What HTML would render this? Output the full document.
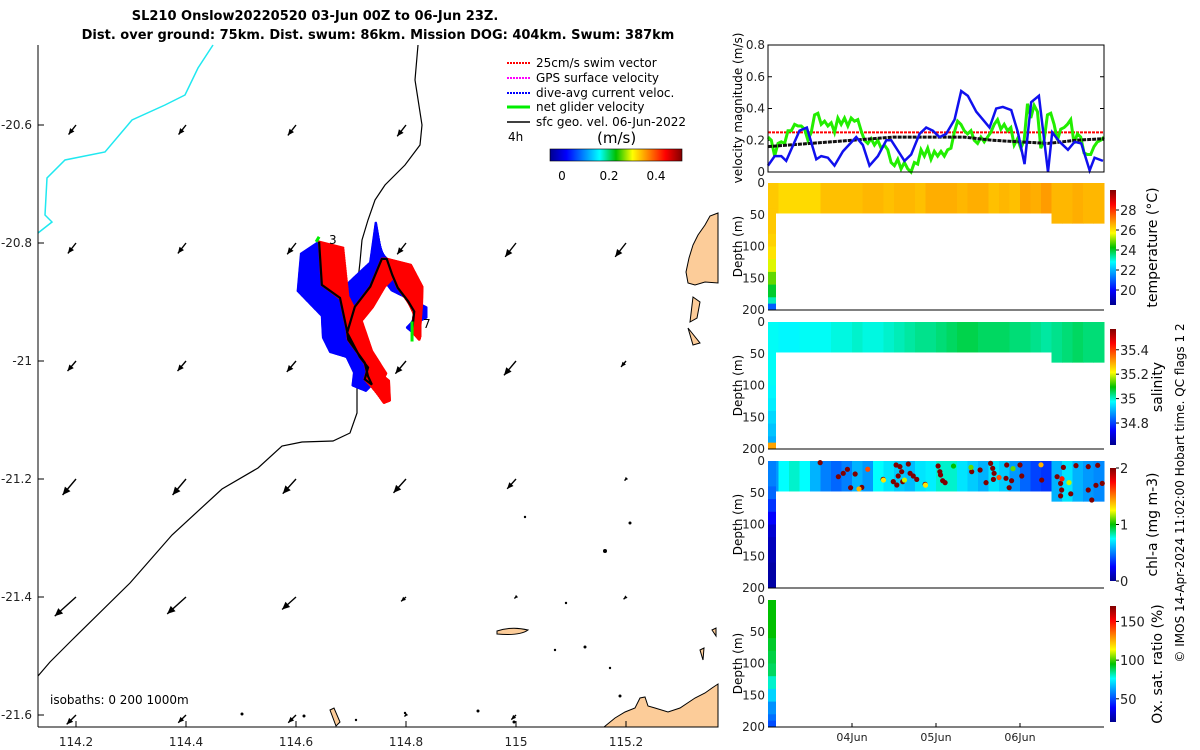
<!DOCTYPE html>
<html><head><meta charset="utf-8"><style>
html,body{margin:0;padding:0;background:#fff;}
svg{display:block;font-family:"DejaVu Sans","Liberation Sans",sans-serif;}
</style></head><body>
<svg id="root" width="1200" height="750" viewBox="0 0 1200 750" xmlns="http://www.w3.org/2000/svg">
<defs>
<linearGradient id="jetH" x1="0" x2="1" y1="0" y2="0">
<stop offset="0" stop-color="#00008f"/><stop offset="0.125" stop-color="#0000ff"/><stop offset="0.375" stop-color="#00ffff"/><stop offset="0.5" stop-color="#00c000"/><stop offset="0.625" stop-color="#ffff00"/><stop offset="0.875" stop-color="#ff0000"/><stop offset="1" stop-color="#800000"/></linearGradient>
<linearGradient id="jetV" x1="0" x2="0" y1="1" y2="0">
<stop offset="0" stop-color="#00008f"/><stop offset="0.125" stop-color="#0000ff"/><stop offset="0.375" stop-color="#00ffff"/><stop offset="0.5" stop-color="#00c000"/><stop offset="0.625" stop-color="#ffff00"/><stop offset="0.875" stop-color="#ff0000"/><stop offset="1" stop-color="#800000"/></linearGradient>
</defs>
<g id="map">
<text x="315" y="20" text-anchor="middle" font-weight="bold" font-size="13">SL210 Onslow20220520 03-Jun 00Z to 06-Jun 23Z.</text>
<text x="378" y="39" text-anchor="middle" font-weight="bold" font-size="13">Dist. over ground: 75km. Dist. swum: 86km. Mission DOG: 404km. Swum: 387km</text>
<polyline fill="none" stroke="#20e8f0" stroke-width="1.5" points="213,45 198,68 185,95 165,105 132,120 105,152 65,160 47,178 45,215 52,222 38,233"/>
<polyline fill="none" stroke="#000" stroke-width="1.2" points="418,45 415,80 422,125 420,145 405,165 385,185 375,200 368,220 362,240 360,262 358,280 362,300 358,320 357,360 357,413 350,433 333,441 302,442 282,446 258,468 222,489 172,535 130,583 72,640 50,662 38,676"/>
<path fill="#fccc99" stroke="#000" stroke-width="1" d="M718,213 L710,216 705,225 698,235 693,245 689,258 686,272 688,283 695,285 705,282 718,283 Z M693,297 L700,302 697,318 690,322 Z M688,328 L700,343 693,345 Z"/>
<path fill="#fccc99" stroke="#000" stroke-width="1" d="M604,727 L615,718 625,712 635,708 640,698 645,697 648,706 655,708 668,712 680,708 695,698 705,693 712,688 718,684 718,727 Z M497,631 Q512,626 528,630 Q520,636 497,634 Z M712,630 L716,628 716,636 Z M700,650 L704,648 703,660 Z M330,710 L334,708 340,722 336,726 Z"/>
<g fill="#000">
<circle cx="525" cy="517" r="1.2"/><circle cx="566" cy="603" r="1.2"/><circle cx="605" cy="551" r="2"/><circle cx="630" cy="523" r="1.5"/><circle cx="555" cy="650" r="1.2"/><circle cx="585" cy="647" r="1.5"/><circle cx="610" cy="668" r="1.2"/><circle cx="620" cy="696" r="1.5"/><circle cx="242" cy="714" r="1.5"/><circle cx="304" cy="716" r="1.5"/><circle cx="356" cy="720" r="1.2"/><circle cx="405" cy="713" r="1.2"/><circle cx="478" cy="711" r="1.5"/><circle cx="514" cy="722" r="1.5"/>
</g>
<g id="arrows"></g>
<g id="track"></g>
<text x="329" y="244" font-size="12">3</text>
<text x="423" y="328" font-size="12">7</text>
<line x1="38" y1="45" x2="38" y2="727" stroke="#000"/>
<line x1="38" y1="727" x2="718" y2="727" stroke="#000"/>
<g id="mapticks" font-size="12" fill="#222"></g>
<text x="50" y="704" font-size="12">isobaths: 0   200  1000m</text>
<g font-size="12">
<line x1="507" y1="63" x2="530" y2="63" stroke="#f00" stroke-width="2" stroke-dasharray="2,1"/>
<text x="536" y="67">25cm/s swim vector</text>
<line x1="507" y1="78" x2="530" y2="78" stroke="#f0f" stroke-width="2" stroke-dasharray="2,1"/>
<text x="536" y="82">GPS surface velocity</text>
<line x1="507" y1="93" x2="530" y2="93" stroke="#00f" stroke-width="2" stroke-dasharray="2,1"/>
<text x="536" y="97">dive-avg current veloc.</text>
<line x1="507" y1="107" x2="530" y2="107" stroke="#0e0" stroke-width="3"/>
<text x="536" y="111">net glider velocity</text>
<line x1="507" y1="122" x2="530" y2="122" stroke="#000" stroke-width="1.5"/>
<text x="536" y="126">sfc geo. vel. 06-Jun-2022</text>
<text x="508" y="141">4h</text>
<text x="597" y="143" font-size="15">(m/s)</text>
<rect x="550" y="149" width="132" height="12" fill="url(#jetH)" stroke="#000" stroke-width="0.6"/>
<text x="562" y="180" text-anchor="middle">0</text>
<text x="609" y="180" text-anchor="middle">0.2</text>
<text x="656" y="180" text-anchor="middle">0.4</text>
</g>
</g>
<g id="vel"></g>
<g id="prof"></g>
<text transform="translate(1184,493) rotate(-90)" text-anchor="middle" font-size="12">© IMOS 14-Apr-2024 11:02:00 Hobart time. QC flags 1  2</text>
</svg>
<script>
// ===== data =====
const gridLons = [114.2, 114.4, 114.6, 114.8, 115.0, 115.2];
const gridLats = [-20.6, -20.8, -21.0, -21.2, -21.4, -21.6];
const geoSpeed = [
 [0.11,0.11,0.12,0.13,0,0],
 [0.12,0.12,0.13,0.13,0.16,0.16],
 [0.12,0.12,0.13,0.15,0.17,0.07],
 [0.19,0.19,0.18,0.17,0.12,0.02],
 [0.26,0.23,0.17,0.06,0.02,0.03],
 [0.12,0.1,0.1,0.02,0.06,0.0]];
const geoDir = [
 [218,218,218,218,218,218],
 [218,218,218,218,218,218],
 [220,220,220,220,220,220],
 [220,220,222,222,222,222],
 [228,228,228,228,228,228],
 [225,225,225,225,225,225]];
const trackLon = [114.642,114.647,114.680,114.693,114.695,114.725,114.731,114.738,114.725,114.731,114.716,114.693,114.707,114.735,114.756,114.765,114.775,114.785,114.804,114.815,114.813,114.811];
const trackLat = [-20.798,-20.871,-20.893,-20.950,-20.964,-21.003,-21.026,-21.040,-21.031,-21.011,-20.993,-20.952,-20.908,-20.874,-20.827,-20.827,-20.854,-20.876,-20.899,-20.916,-20.933,-20.950];
const swimU = [0.2,0.22,0.15,0.1,0.15,0.2,0.18,0.1,0.1,0.15,0.1,0.12,0.15,0.12,0.15,0.2,0.25,0.2,0.1,0.05,0.05,0];
const swimV = [-0.05,-0.1,-0.15,-0.2,-0.2,-0.15,-0.2,-0.15,-0.1,-0.05,0.05,0.1,0,0,-0.1,-0.05,-0.1,-0.15,-0.2,-0.2,-0.15,0];
const curU = [-0.15,-0.2,-0.15,-0.2,-0.15,-0.15,-0.1,-0.05,-0.1,-0.1,-0.1,-0.05,-0.05,0,-0.05,-0.1,-0.1,-0.05,0.15,0.1,-0.05,0];
const curV = [-0.1,-0.05,-0.15,-0.05,-0.1,0.05,0,-0.05,-0.05,0.1,0.1,0.15,0.2,0.2,0.3,0.1,0,-0.02,-0.05,-0.05,-0.05,0];

const blueHours = [0,1.9,3.8,5.2,9,11.1,13.8,15.2,17.1,19,21.4,25.2,27.1,29,31.4,33.8,35.2,39,40.9,43.3,45.2,47.1,49,50.9,53.3,55.2,57.1,59.5,61.4,63.3,65.2,67.1,69.5,71.4,73.3,75.2,77.4,80,81.2,83.3,85.7,87.6,89.5,91.9,93.3,95.7];
const blueVals = [0.04,0.1,0.1,0.07,0.26,0.28,0.08,0.1,0.09,0.04,0.13,0.22,0.17,0.04,0.1,0.2,0.2,0.07,0.11,0.24,0.28,0.26,0.22,0.24,0.33,0.51,0.48,0.38,0.33,0.28,0.4,0.41,0.39,0.25,0.05,0.44,0.48,0.0,0.25,0.19,0.14,0.19,0.18,0.01,0.09,0.07];
const greenVals = [0.22,0.2,0.1,0.18,0.19,0.18,0.26,0.26,0.3,0.29,0.29,0.27,0.2,0.25,0.36,0.37,0.3,0.32,0.29,0.31,0.25,0.34,0.3,0.34,0.29,0.34,0.32,0.33,0.26,0.2,0.18,0.21,0.17,0.2,0.15,0.17,0.14,0.06,0.04,0.08,0.02,0.06,0.02,0.0,0.06,0.05,0.14,0.1,0.15,0.08,0.13,0.1,0.13,0.1,0.14,0.15,0.25,0.32,0.3,0.26,0.24,0.26,0.2,0.18,0.22,0.19,0.22,0.25,0.3,0.33,0.27,0.3,0.26,0.28,0.17,0.21,0.15,0.2,0.43,0.34,0.42,0.38,0.15,0.2,0.36,0.37,0.3,0.2,0.27,0.28,0.3,0.33,0.18,0.24,0.22,0.12,0.11,0.11,0.16,0.19,0.2,0.22];
const blackHours = [0,12,24,36,48,56,64,72,80,88,96];
const blackVals = [0.16,0.18,0.2,0.22,0.22,0.22,0.2,0.19,0.18,0.2,0.21];
const swimRef = 0.25;
const velTicks = [0,0.2,0.4,0.6,0.8];

const colHours = [0,3,6,9,12,15,18,21,24,27,30,33,36,39,42,45,48,51,54,57,60,63,66,69,72,75,78,81,84,87,90,93];
const colDepth = [48,48,48,48,48,48,48,48,48,48,48,48,48,48,48,48,48,48,48,48,48,48,48,48,48,48,48,64,64,64,64,64];
const tempCols = [26.3,26.1,26.1,26.1,26.1,26.4,26.4,26.4,26.4,26.5,26.5,26.4,26.5,26.5,26.4,26.6,26.6,26.6,26.5,26.6,26.6,26.4,26.5,26.4,26.7,26.6,26.8,26.5,26.5,26.6,26.5,26.5];
const salCols = [34.98,34.97,34.97,34.98,34.98,34.98,34.99,34.99,35.0,34.99,34.99,35.0,35.01,35.02,35.03,35.03,35.04,35.05,35.06,35.06,35.05,35.05,35.05,35.04,35.04,35.03,35.02,35.03,35.04,35.05,35.04,35.04];
const chlCols = [0.55,0.75,0.8,0.75,0.6,0.5,0.45,0.5,0.6,0.55,0.75,0.7,0.65,0.62,0.7,0.72,0.8,0.8,0.7,0.65,0.6,0.7,0.65,0.55,0.45,0.38,0.35,0.6,0.7,0.6,0.55,0.52];
const profDepths = [0,20,40,60,80,100,120,140,160,180,190];
const tempProf = [26.3,26.3,26.3,26.3,26.2,26.0,25.5,24.8,24.0,23.2,21.0];
const salProf = [34.98,34.98,34.98,34.98,34.98,34.97,34.96,34.94,34.92,34.9,35.3];
const chlProf = [0.5,0.5,0.45,0.35,0.25,0.15,0.1,0.08,0.05,0.05,0.05];
const oxProf = [95,95,95,92,90,88,80,70,60,55,50];
const chlDotHours = [14.9,20.1,21.5,22.7,24.9,23.6,26.8,32.9,36.6,37.7,38.2,37.2,35.8,36.8,38.5,40.1,40.6,41.5,42.5,44.9,48.6,49.1,49.3,49.9,50.6,58.2,60.6,62.3,63.6,64.2,64.6,64.4,68.2,68.0,68.9,69.6,72.0,72.5,78.2,84.4,82.6,83.6,83.9,83.6,86.5,88.0,91.5,91.5,92.5,94.2,93.7,95.5,28.5,26,45,53,58,33,39,70,66,84,78,86];
const chlDotDepth = [2.6,24.7,19.4,13.1,20.5,42,41.5,28.9,6.3,8.9,16.8,23.6,32.5,37.8,32.5,4.7,19.4,23.6,28.9,36.7,7.9,16.8,22,31,34.1,16.8,14.2,34.1,3.7,11.5,19.4,28.9,6.3,27.3,42,31,6.3,23.6,30,10,24.7,35.2,45.7,54.9,51.7,7.3,8.9,45.7,61.4,6.8,38.3,35.2,13,44,38,8,10,30,30,12,26,28,6,34];
const chlDotVals = [2,2,2,2,2,2,2,2,2,2,2,2,2,2,2,2,2,2,2,2,2,2,2,2,2,2,2,2,2,2,2,2,2,2,2,2,2,2,2,2,2,2,2,2,2,2,2,2,2,2,2,2,1.6,1.4,1.3,1.0,1.1,1.3,1.2,1.1,1.6,1.7,1.4,1.2];

// ===== helpers =====
const NS='http://www.w3.org/2000/svg';
function mk(tag,parent,attrs){const e=document.createElementNS(NS,tag);for(const k in attrs)e.setAttribute(k,attrs[k]);parent.appendChild(e);return e;}
function jet(t){t=Math.max(0,Math.min(1,t));
 const stops=[[0,[0,0,143]],[0.125,[0,0,255]],[0.375,[0,255,255]],[0.5,[0,192,0]],[0.625,[255,255,0]],[0.875,[255,0,0]],[1,[128,0,0]]];
 for(let i=1;i<stops.length;i++){if(t<=stops[i][0]){const a=stops[i-1],b=stops[i];const f=(t-a[0])/(b[0]-a[0]);
 const c=a[1].map((v,j)=>Math.round(v+(b[1][j]-v)*f));return `rgb(${c[0]},${c[1]},${c[2]})`;}}return 'rgb(128,0,0)';}
const lonX = lon => 76 + (lon-114.2)*550;
const latY = lat => 125 + (-20.6-lat)*590;

// ===== map ticks =====
const mt=document.getElementById('mapticks');
gridLons.forEach(l=>{const x=lonX(l);
 const t=mk('line',mt,{x1:x,y1:727,x2:x,y2:721,stroke:'#000'});
 
 const tx=mk('text',mt,{x:x,y:746,'text-anchor':'middle'});tx.textContent=(l===115?'115':l.toFixed(1));
 });
gridLats.forEach(l=>{const y=latY(l);
 const t=mk('line',mt,{x1:38,y1:y,x2:44,y2:y,stroke:'#000'});
 
 const tx=mk('text',mt,{x:32,y:y+4,'text-anchor':'end'});tx.textContent=(l===-21?'-21':l.toFixed(1));
 });

// ===== geo arrows =====
const ag=document.getElementById('arrows');
const arrowScale=110;
gridLats.forEach((lat,r)=>gridLons.forEach((lon,c)=>{
 const s=geoSpeed[r][c]; if(s<=0) return;
 const a=geoDir[r][c]*Math.PI/180; const L=s*arrowScale;
 const x0=lonX(lon), y0=latY(lat);
 const dx=Math.sin(a)*L, dy=-Math.cos(a)*L;
 const x1=x0+dx, y1=y0+dy;
 const g=mk('g',ag,{});
 
 
 mk('line',g,{x1:x0,y1:y0,x2:x1,y2:y1,stroke:'#000','stroke-width':1.4});
 const ux=dx/L, uy=dy/L, h=Math.min(8,3+L*0.25);
 mk('polygon',g,{points:`${x1},${y1} ${x1-ux*h-uy*h*0.45},${y1-uy*h+ux*h*0.45} ${x1-ux*h+uy*h*0.45},${y1-uy*h-ux*h*0.45}`,fill:'#000'});
}));

// ===== track with vectors =====
const tg=document.getElementById('track');
const vs=120;
function drawVecs(U,V,color,name){
 const g=mk('g',tg,{stroke:color,'stroke-width':2.5,'stroke-linecap':'round'});
 
 
 for(let i=0;i<trackLon.length-1;i++){
  for(let k=0;k<30;k++){const f=k/30;
   const x=lonX(trackLon[i]+(trackLon[i+1]-trackLon[i])*f), y=latY(trackLat[i]+(trackLat[i+1]-trackLat[i])*f);
   const u=U[i]+(U[i+1]-U[i])*f, v=V[i]+(V[i+1]-V[i])*f;
   mk('line',g,{x1:x,y1:y,x2:x+u*vs,y2:y-v*vs});}}
}
drawVecs(curU,curV,'#0000ff','current-vectors');
drawVecs(swimU,swimV,'#ff0000','swim-vectors');
const tl=mk('polyline',tg,{fill:'none',stroke:'#000','stroke-width':2.2,points:trackLon.map((l,i)=>lonX(l)+','+latY(trackLat[i])).join(' ')});


const gs=mk('line',tg,{x1:lonX(trackLon[0]),y1:latY(trackLat[0])-5,x2:lonX(trackLon[0])-3,y2:latY(trackLat[0]),stroke:'#0e0','stroke-width':3});


const ge=mk('line',tg,{x1:lonX(trackLon[21]),y1:latY(trackLat[21])-10,x2:lonX(trackLon[21]),y2:latY(trackLat[21])+10,stroke:'#0e0','stroke-width':3});



// ===== velocity panel =====
const VX0=768,VX1=1104,VY0=45,VY1=172;
const tx = h => VX0 + h*(VX1-VX0)/96;
const vy = v => VY1 - v*(VY1-VY0)/0.8;
const vg=document.getElementById('vel');
velTicks.forEach(v=>{const y=vy(v);
 mk('line',vg,{x1:VX0,y1:y,x2:VX0+4,y2:y,stroke:'#000'});mk('line',vg,{x1:VX1,y1:y,x2:VX1-4,y2:y,stroke:'#000'});
 const t=mk('text',vg,{x:765,y:y+4,'text-anchor':'end','font-size':12,fill:'#222'});t.textContent=(v===0?'0':v.toFixed(1));
 });
const vyt=mk('text',vg,{transform:'translate(742,108) rotate(-90)','text-anchor':'middle','font-size':12});vyt.textContent='velocity magnitude (m/s)';

const rl=mk('line',vg,{x1:VX0,y1:vy(swimRef),x2:VX1,y2:vy(swimRef),stroke:'#f00','stroke-width':2,'stroke-dasharray':'3,1'});

const gl=mk('polyline',vg,{fill:'none',stroke:'#22ee00','stroke-width':3,points:greenVals.map((v,i)=>tx(i*96/(greenVals.length-1))+','+vy(v)).join(' ')});

const kl=mk('polyline',vg,{fill:'none',stroke:'#111','stroke-width':3,'stroke-dasharray':'4,1',points:blackHours.map((h,i)=>tx(h)+','+vy(blackVals[i])).join(' ')});

const bl=mk('polyline',vg,{fill:'none',stroke:'#1010ee','stroke-width':2.5,points:blueHours.map((h,i)=>tx(h)+','+vy(blueVals[i])).join(' ')});

const vb=mk('rect',vg,{x:VX0,y:VY0,width:VX1-VX0,height:VY1-VY0,fill:'none',stroke:'#000'});


// ===== profile panels =====
const pg=document.getElementById('prof');
const panels=[
 {top:183,name:'temperature',cols:tempCols,prof:tempProf,vmin:18.5,vmax:30,cb:[190,305],ticks:[20,22,24,26,28],label:'temperature (°C)',lx:1157},
 {top:322,name:'salinity',cols:salCols,prof:salProf,vmin:34.62,vmax:35.57,cb:[329,445],ticks:[34.8,35,35.2,35.4],label:'salinity',lx:1162},
 {top:461,name:'chl-a',cols:chlCols,prof:chlProf,vmin:0,vmax:2,cb:[468,581],ticks:[0,1,2],label:'chl-a (mg m-3)',lx:1157},
 {top:600,name:'oxygen',cols:null,prof:oxProf,vmin:20,vmax:170,cb:[606,722],ticks:[50,100,150],label:'Ox. sat. ratio (%)',lx:1162}];
const PH=127;
panels.forEach((p,pi)=>{
 const g=mk('g',pg,{});
 
 
 const dy=d=>p.top+d*PH/200;
 const cv=v=>jet((v-p.vmin)/(p.vmax-p.vmin));
 if(p.cols){colHours.forEach((h,i)=>{
  const r=mk('rect',g,{x:tx(h),y:p.top,width:tx(h+3)-tx(h)+0.5,height:dy(colDepth[i])-p.top,fill:cv(p.cols[i])});
  });}
 profDepths.forEach((d,i)=>{const d2=i<profDepths.length-1?profDepths[i+1]:200;
  const r=mk('rect',g,{x:tx(0),y:dy(d),width:8,height:dy(d2)-dy(d)+0.5,fill:cv(p.prof[i])});
  });
 if(p.name==='chl-a'){chlDotHours.forEach((h,i)=>{
  const c=mk('circle',g,{cx:tx(h),cy:dy(chlDotDepth[i]),r:2.6,fill:cv(chlDotVals[i])});
  });}
 [0,50,100,150,200].forEach(d=>{const t=mk('text',g,{x:765,y:dy(d)+4,'text-anchor':'end','font-size':12,fill:'#222'});t.textContent=d;
  });
 const yt=mk('text',g,{transform:`translate(742,${p.top+PH/2}) rotate(-90)`,'text-anchor':'middle','font-size':12});yt.textContent='Depth (m)';
 
 const ax=mk('line',g,{x1:VX0,y1:p.top+PH,x2:VX1,y2:p.top+PH,stroke:'#000'});
 
 const cb=mk('rect',g,{x:1110,y:p.cb[0],width:6,height:p.cb[1]-p.cb[0],fill:'url(#jetV)'});
 
 p.ticks.forEach(v=>{const y=p.cb[1]-(v-p.vmin)/(p.vmax-p.vmin)*(p.cb[1]-p.cb[0]);
  mk('line',g,{x1:1116,y1:y,x2:1119,y2:y,stroke:'#000'});
  const t=mk('text',g,{x:1120,y:y+5,'font-size':13,fill:'#222'});t.textContent=v;
  });
 const lt=mk('text',g,{transform:`translate(${p.lx},${(p.cb[0]+p.cb[1])/2}) rotate(-90)`,'text-anchor':'middle','font-size':14});lt.textContent=p.label;
 
});
[['04Jun',24],['05Jun',48],['06Jun',72]].forEach(([s,h])=>{const x=tx(h);
 mk('line',pg,{x1:x,y1:727,x2:x,y2:723,stroke:'#000'});
 const t=mk('text',pg,{x:x,y:741,'text-anchor':'middle','font-size':11,fill:'#222'});t.textContent=s;
 });
</script>
</body></html>
